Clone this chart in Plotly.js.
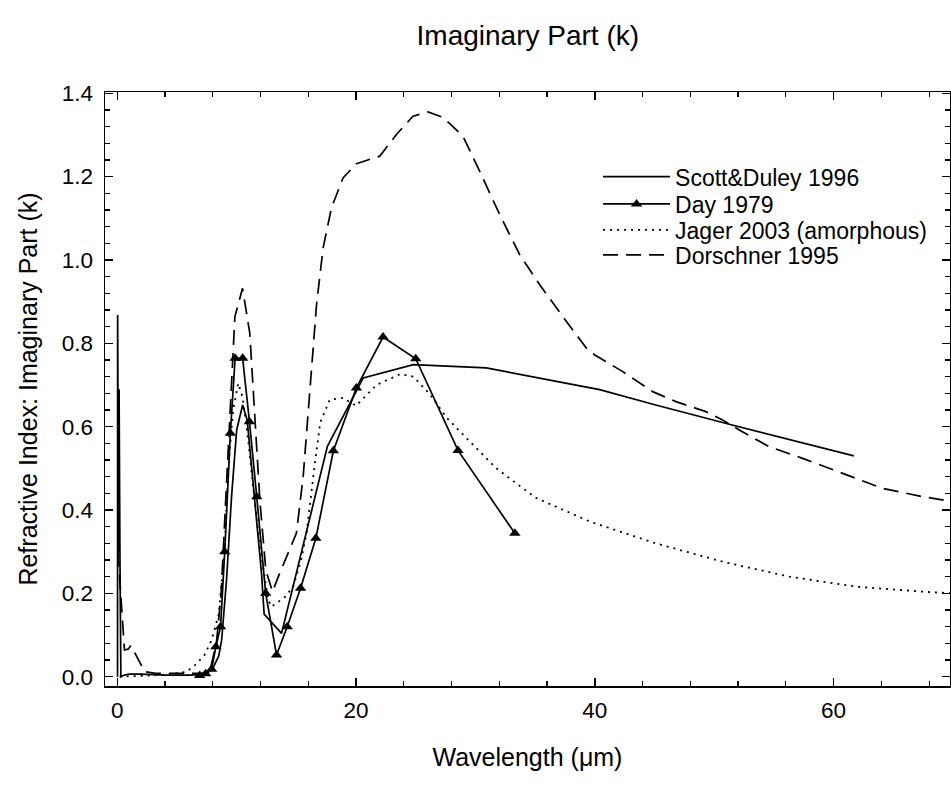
<!DOCTYPE html>
<html>
<head>
<meta charset="utf-8">
<script src="https://cdn.plot.ly/plotly-3.0.1.min.js"></script>
<style>html,body{margin:0;padding:0;background:#fff;}#chart{width:951px;height:787px;}</style>
</head>
<body>
<div id="chart"></div>
<script>
// Scott & Duley 1996 (solid)
var scottX = [0.02, 0.03, 0.10, 0.15, 0.22, 0.30, 0.6, 1.0, 2.0, 4.0, 6.0, 7.0, 7.5, 8.0, 8.5, 8.74, 9.15, 9.57, 10.0, 10.5, 10.88, 11.25, 11.66, 12.08, 12.3, 13.76, 17.6, 20.6, 24.8, 30.9, 40.4, 45.1, 51.5, 61.7];
var scottK = [0.0, 0.868, 0.30, 0.69, 0.30, 0.0, 0.004, 0.006, 0.006, 0.004, 0.004, 0.005, 0.008, 0.02, 0.05, 0.088, 0.232, 0.432, 0.592, 0.652, 0.616, 0.504, 0.376, 0.248, 0.15, 0.104, 0.553, 0.717, 0.749, 0.741, 0.689, 0.652, 0.604, 0.53];

// Day 1979 (solid with triangles)
var dayX = [6.9, 7.4, 7.9, 8.26, 8.65, 9.0, 9.47, 9.87, 10.5, 11.07, 11.68, 12.43, 13.34, 14.23, 15.35, 16.63, 18.1, 20.03, 22.26, 25.0, 28.54, 33.3];
var dayK = [0.003, 0.007, 0.018, 0.072, 0.12, 0.30, 0.584, 0.764, 0.764, 0.612, 0.432, 0.20, 0.052, 0.12, 0.212, 0.332, 0.542, 0.693, 0.815, 0.763, 0.543, 0.344];

// Jager 2003 amorphous (dotted)
var jagerX = [0.2, 2.0, 3.0, 4.5, 5.8, 6.6, 7.3, 7.9, 8.5, 9.0, 9.3, 9.7, 10.13, 10.5, 10.96, 11.38, 11.94, 12.64, 12.92, 14.0, 14.73, 15.4, 15.85, 16.5, 17.0, 17.8, 18.9, 20.0, 21.7, 23.7, 24.8, 26.2, 27.6, 29.5, 31.75, 35.0, 39.6, 45.1, 50.7, 56.3, 61.9, 67.45, 70.0];
var jagerK = [0.0, 0.001, 0.003, 0.006, 0.012, 0.03, 0.052, 0.088, 0.15, 0.31, 0.50, 0.64, 0.704, 0.67, 0.568, 0.456, 0.312, 0.184, 0.168, 0.19, 0.216, 0.28, 0.344, 0.50, 0.61, 0.665, 0.669, 0.65, 0.70, 0.726, 0.72, 0.677, 0.621, 0.565, 0.50, 0.43, 0.372, 0.32, 0.276, 0.24, 0.216, 0.204, 0.20];

// Dorschner 1995 (dashed)
var dorX = [0.05, 0.3, 0.6, 0.9, 1.15, 1.6, 2.3, 3.2, 5.0, 7.0, 7.5, 7.8, 8.3, 8.7, 9.15, 9.85, 10.49, 11.1, 11.52, 11.94, 12.44, 13.0, 13.6, 15.0, 15.57, 16.05, 16.69, 17.24, 17.94, 18.91, 20.03, 21.98, 23.38, 24.77, 26.03, 27.28, 28.95, 30.35, 32.03, 33.7, 35.37, 37.6, 39.28, 40.0, 42.34, 44.85, 46.8, 49.3, 50.7, 52.1, 54.6, 57.4, 60.75, 64.1, 67.45, 70.0];
var dorK = [0.30, 0.184, 0.064, 0.066, 0.075, 0.05, 0.012, 0.008, 0.008, 0.008, 0.01, 0.02, 0.08, 0.2, 0.464, 0.864, 0.932, 0.824, 0.624, 0.424, 0.256, 0.204, 0.248, 0.344, 0.48, 0.66, 0.893, 1.029, 1.125, 1.197, 1.231, 1.249, 1.301, 1.345, 1.355, 1.342, 1.297, 1.213, 1.109, 1.013, 0.941, 0.853, 0.789, 0.772, 0.732, 0.684, 0.66, 0.636, 0.616, 0.592, 0.552, 0.524, 0.488, 0.452, 0.432, 0.42];

var seriesNames = ['Scott&Duley 1996', 'Day 1979', 'Jager 2003 (amorphous)', 'Dorschner 1995'];

var FONT = 'Arial, "Liberation Sans", sans-serif';

var traces = [
  {x: scottX, y: scottK, name: seriesNames[0], mode: 'lines', legend: 'legend', line: {color: '#000', width: 1.7}},
  {x: dayX, y: dayK, name: seriesNames[1], mode: 'lines+markers', legend: 'legend2', line: {color: '#000', width: 1.7},
   marker: {symbol: 'triangle-up', size: 10, color: '#000'}},
  {x: jagerX, y: jagerK, name: seriesNames[2], mode: 'lines', legend: 'legend3', line: {color: '#000', width: 1.8, dash: '2px,5px'}},
  {x: dorX, y: dorK, name: seriesNames[3], mode: 'lines', legend: 'legend4', line: {color: '#000', width: 1.7, dash: '15px,8px'}}
];

function leg(yPaper) {
  return {x: 0.5835, y: yPaper, xanchor: 'left', yanchor: 'middle', bgcolor: 'rgba(0,0,0,0)', borderwidth: 0,
          itemwidth: 67, font: {family: FONT, size: 23, color: '#000'}};
}
// legend rows centred at pixel rows 176.7, 205, 230, 255 (plot spans 92..686)
function pyToPaper(py) { return (686 - py) / 594; }

var layout = {
  width: 951, height: 787,
  margin: {l: 105, r: 1, t: 92, b: 101},
  paper_bgcolor: '#fff', plot_bgcolor: '#fff',
  font: {family: FONT, size: 22, color: '#000'},
  title: {text: 'Imaginary Part (k)', font: {family: FONT, size: 28, color: '#000'}, x: 0.555, xanchor: 'center', y: 0.955, yanchor: 'middle'},
  showlegend: true,
  legend: leg(pyToPaper(176.7)),
  legend2: leg(pyToPaper(204)),
  legend3: leg(pyToPaper(230)),
  legend4: leg(pyToPaper(255)),
  xaxis: {
    range: [-1.03, 69.75], showgrid: false, zeroline: false,
    showline: true, linecolor: '#000', linewidth: 1.5, mirror: 'ticks',
    ticks: 'inside', ticklen: 8, tickwidth: 1.5, tickcolor: '#000',
    tick0: 0, dtick: 20, tickfont: {family: FONT, size: 22.5, color: '#000'},
    ticklabelstandoff: 3,
    minor: {dtick: 4, ticklen: 5, tickwidth: 1.2, tickcolor: '#000', ticks: 'inside', showgrid: false},
    title: {text: 'Wavelength (μm)', font: {family: FONT, size: 25, color: '#000'}, standoff: 27}
  },
  yaxis: {
    range: [-0.0223, 1.403], showgrid: false, zeroline: false,
    showline: true, linecolor: '#000', linewidth: 1.5, mirror: 'ticks',
    ticks: 'inside', ticklen: 8, tickwidth: 1.5, tickcolor: '#000',
    tick0: 0, dtick: 0.2, tickformat: '.1f', tickfont: {family: FONT, size: 22.5, color: '#000'},
    ticklabelstandoff: 6,
    minor: {dtick: 0.04, ticklen: 5, tickwidth: 1.2, tickcolor: '#000', ticks: 'inside', showgrid: false},
    title: {text: 'Refractive Index: Imaginary Part (k)', font: {family: FONT, size: 25, color: '#000'}, standoff: 17}
  }
};

Plotly.newPlot('chart', traces, layout, {displayModeBar: false, staticPlot: true});
</script>
</body>
</html>
